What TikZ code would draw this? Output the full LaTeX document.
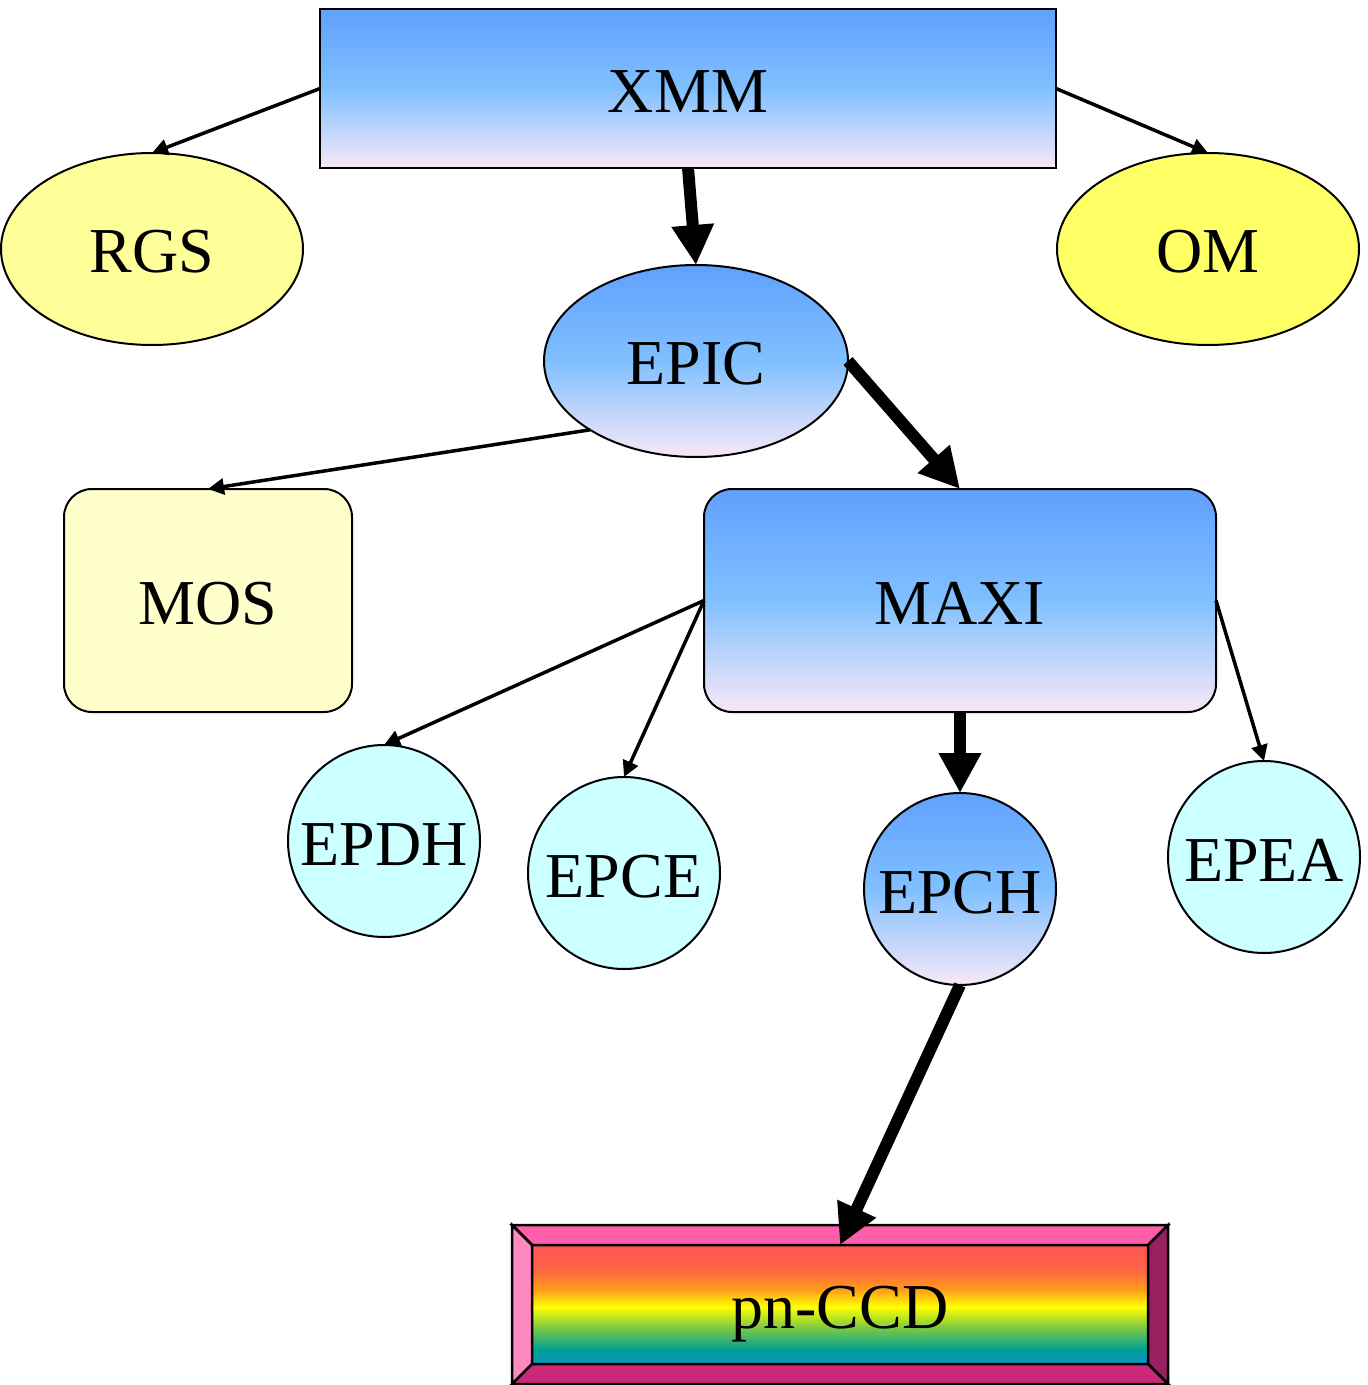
\documentclass[tikz,border=0pt]{standalone}
\usepackage{fontspec}
\setmainfont{Liberation Serif}
\usetikzlibrary{arrows.meta,shapes.geometric}
\definecolor{gtop}{RGB}{96,160,255}
\definecolor{gmid}{RGB}{128,192,255}
\definecolor{gbot}{RGB}{248,232,248}
\definecolor{rgsyel}{RGB}{255,255,153}
\definecolor{omyel}{RGB}{255,255,102}
\definecolor{mosyel}{RGB}{255,255,204}
\definecolor{cyanl}{RGB}{204,255,255}
\definecolor{bvtop}{RGB}{255,95,170}
\definecolor{bvleft}{RGB}{255,136,192}
\definecolor{bvright}{RGB}{153,32,96}
\definecolor{bvbot}{RGB}{204,40,120}
\definecolor{rbA}{RGB}{16,144,192}
\definecolor{rbB}{RGB}{0,160,150}
\definecolor{rbC}{RGB}{120,200,70}
\definecolor{rbD}{RGB}{255,255,0}
\definecolor{rbE}{RGB}{255,150,30}
\definecolor{rbF}{RGB}{255,100,70}
\definecolor{rbG}{RGB}{255,85,85}
\pgfdeclareverticalshading{rainbow}{100bp}{color(0bp)=(rbA); color(25bp)=(rbA); color(31bp)=(rbB); color(40bp)=(rbC); color(49bp)=(rbD); color(57bp)=(rbE); color(65bp)=(rbF); color(75bp)=(rbG); color(100bp)=(rbG)}
\begin{document}
\begin{tikzpicture}[x=0.5pt,y=-0.5pt,
  lbl/.style={font=\fontsize{32}{38}\selectfont, text height=24pt, text depth=0pt, inner sep=0pt, outer sep=0pt, draw=black, line width=1pt},
  grad/.style={top color=gtop, bottom color=gbot, middle color=gmid},
  thinar/.style={line width=1.75pt, -{Triangle[width=8pt,length=8pt]}},
  thickar/.style={line width=6pt, -{Triangle[width=20pt,length=20pt]}}]
\useasboundingbox (0,0) rectangle (1368,1385);
\node[lbl, rectangle, grad, minimum width=368pt, minimum height=79.5pt, line width=1.25pt] (xmm) at (688,88.5) {XMM};
\node[lbl, ellipse, fill=rgsyel, minimum width=151pt, minimum height=96pt] (rgs) at (152,249) {RGS};
\node[lbl, ellipse, fill=omyel, minimum width=151pt, minimum height=96pt] (om) at (1208,249) {OM};
\node[lbl, ellipse, grad, minimum width=152pt, minimum height=96pt] (epic) at (696,361) {EPIC};
\node[lbl, rectangle, rounded corners=14pt, fill=mosyel, minimum width=144pt, minimum height=111.5pt] (mos) at (208,600.5) {MOS};
\node[lbl, rectangle, rounded corners=14pt, grad, minimum width=256pt, minimum height=111.5pt] (maxi) at (960,600.5) {MAXI};
\node[lbl, circle, fill=cyanl, minimum size=96pt] (epdh) at (384,841) {EPDH};
\node[lbl, circle, fill=cyanl, minimum size=96pt] (epce) at (624,873) {EPCE};
\node[lbl, circle, grad, minimum size=96pt] (epch) at (960,889) {EPCH};
\node[lbl, circle, fill=cyanl, minimum size=96pt] (epea) at (1264,857) {EPEA};
% pn-CCD bevelled box
\node[lbl, rectangle, shading=rainbow, minimum width=308pt, minimum height=59.5pt, line width=1.25pt] (pn) at (840,1304.5) {pn-CCD};
\node[draw=none, rectangle, inner sep=0pt, outer sep=0pt, minimum width=328pt, minimum height=79.5pt] (pnout) at (840,1304.5) {};
\begin{scope}[line width=1.25pt, draw=black]
\filldraw[fill=bvtop] (pnout.north west) -- (pnout.north east) -- (pn.north east) -- (pn.north west) -- cycle;
\filldraw[fill=bvleft] (pnout.north west) -- (pn.north west) -- (pn.south west) -- (pnout.south west) -- cycle;
\filldraw[fill=bvright] (pnout.north east) -- (pnout.south east) -- (pn.south east) -- (pn.north east) -- cycle;
\filldraw[fill=bvbot] (pnout.south west) -- (pn.south west) -- (pn.south east) -- (pnout.south east) -- cycle;
\draw (pnout.north west) rectangle (pnout.south east);
\draw (pn.north west) rectangle (pn.south east);
\end{scope}
% connectors
\draw[thinar] (xmm.west) -- (rgs.north);
\draw[thinar] (xmm.east) -- (om.north);
\draw[thickar] (xmm.south) -- (epic.north);
\draw[thickar] (epic.east) -- (maxi.north);
\draw[thinar] (epic.213) -- (mos.north);
\draw[thinar] (maxi.west) -- (epdh.north);
\draw[thinar] (maxi.west) -- (epce.north);
\draw[thickar] (maxi.south) -- (epch.north);
\draw[thinar] (maxi.east) -- (epea.north);
\draw[thickar] (epch.south) -- (pn.north);
\end{tikzpicture}
\end{document}
